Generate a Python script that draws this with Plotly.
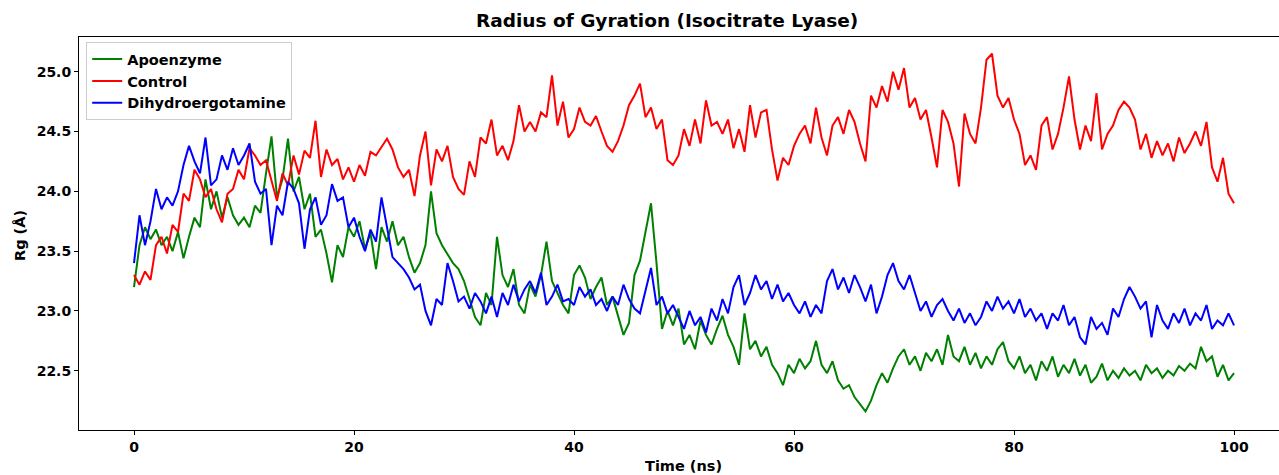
import plotly.graph_objects as go

time_ns = [i * 0.5 for i in range(201)]

control = [
23.30,23.22,23.33,23.26,23.55,23.62,23.48,23.72,23.66,23.98,
23.92,24.18,24.10,23.95,24.02,23.85,23.74,23.98,24.02,24.18,
24.10,24.36,24.30,24.22,24.26,24.10,23.92,24.15,24.05,24.30,
24.14,24.34,24.28,24.59,24.12,24.35,24.22,24.27,24.10,24.20,
24.08,24.22,24.13,24.33,24.30,24.37,24.44,24.35,24.20,24.12,
24.18,23.96,24.30,24.50,24.05,24.35,24.25,24.38,24.12,24.02,
23.97,24.25,24.12,24.45,24.40,24.60,24.30,24.38,24.26,24.42,
24.72,24.50,24.58,24.50,24.66,24.62,24.97,24.55,24.75,24.45,
24.52,24.70,24.58,24.55,24.63,24.50,24.38,24.33,24.42,24.55,
24.72,24.80,24.90,24.62,24.70,24.52,24.60,24.26,24.22,24.30,
24.52,24.38,24.60,24.40,24.76,24.55,24.58,24.48,24.60,24.36,
24.52,24.33,24.72,24.45,24.66,24.68,24.35,24.09,24.28,24.22,
24.38,24.48,24.55,24.40,24.70,24.45,24.30,24.55,24.62,24.48,
24.68,24.58,24.40,24.25,24.80,24.70,24.88,24.75,25.00,24.85,
25.03,24.70,24.78,24.60,24.68,24.45,24.20,24.68,24.58,24.40,
24.04,24.65,24.48,24.40,24.70,25.10,25.15,24.80,24.70,24.78,
24.60,24.48,24.22,24.30,24.18,24.55,24.62,24.35,24.48,24.70,
24.96,24.60,24.35,24.55,24.42,24.82,24.35,24.48,24.55,24.68,
24.75,24.70,24.60,24.35,24.48,24.28,24.42,24.30,24.40,24.25,
24.45,24.32,24.40,24.50,24.38,24.58,24.20,24.08,24.28,23.98,
23.90]

apoenzyme = [
23.20,23.55,23.70,23.60,23.68,23.55,23.62,23.50,23.66,23.44,
23.62,23.78,23.70,24.10,23.85,24.00,23.78,23.95,23.80,23.72,
23.78,23.70,23.88,23.82,24.15,24.46,23.95,24.10,24.44,24.00,
24.12,23.85,23.98,23.62,23.68,23.48,23.24,23.55,23.45,23.70,
23.62,23.75,23.52,23.65,23.35,23.70,23.58,23.75,23.55,23.62,
23.45,23.32,23.40,23.55,24.00,23.65,23.55,23.48,23.40,23.35,
23.25,23.10,22.95,22.88,23.15,23.05,23.62,23.30,23.20,23.35,
23.05,22.98,23.22,23.12,23.30,23.58,23.25,23.15,23.05,22.98,
23.30,23.38,23.28,23.10,23.20,23.28,23.05,23.12,22.95,22.80,
22.90,23.30,23.42,23.65,23.90,23.40,22.85,23.00,22.88,23.02,
22.72,22.80,22.68,22.92,22.80,22.72,22.85,22.96,22.80,22.70,
22.55,22.98,22.68,22.75,22.62,22.70,22.55,22.48,22.38,22.55,
22.48,22.60,22.52,22.58,22.75,22.55,22.48,22.58,22.42,22.35,
22.38,22.28,22.22,22.16,22.25,22.38,22.48,22.40,22.52,22.62,
22.68,22.55,22.62,22.50,22.65,22.58,22.68,22.55,22.80,22.62,
22.58,22.70,22.55,22.65,22.52,22.62,22.55,22.68,22.74,22.58,
22.52,22.62,22.48,22.55,22.42,22.58,22.50,22.62,22.45,22.55,
22.48,22.60,22.46,22.55,22.40,22.45,22.56,22.42,22.50,22.44,
22.52,22.46,22.50,22.42,22.55,22.48,22.52,22.44,22.50,22.46,
22.54,22.50,22.56,22.52,22.70,22.58,22.62,22.45,22.55,22.42,
22.48]

dihydroergotamine = [
23.40,23.80,23.55,23.75,24.02,23.85,23.95,23.88,24.00,24.22,
24.38,24.25,24.15,24.45,24.05,24.10,24.30,24.18,24.36,24.22,
24.30,24.40,24.08,23.98,24.02,23.55,23.88,23.80,24.08,24.02,
23.90,23.52,23.85,23.95,23.72,23.80,24.06,23.92,23.95,23.70,
23.78,23.62,23.50,23.68,23.58,23.95,23.70,23.45,23.40,23.35,
23.28,23.18,23.22,23.00,22.88,23.10,23.05,23.40,23.25,23.08,
23.12,23.02,23.15,23.08,22.98,23.12,22.95,23.15,23.05,23.22,
23.08,23.18,23.25,23.15,23.32,23.05,23.12,23.22,23.08,23.10,
23.05,23.20,23.12,23.18,23.05,23.10,23.00,23.12,23.05,23.22,
23.10,23.02,22.98,23.18,23.36,23.05,23.12,22.98,23.05,22.95,
22.85,23.00,22.88,22.95,22.82,23.02,22.92,23.10,22.98,23.20,
23.30,23.05,23.15,23.30,23.18,23.25,23.10,23.22,23.08,23.15,
23.05,22.98,23.08,22.95,23.05,22.98,23.25,23.35,23.18,23.28,
23.15,23.30,23.20,23.08,23.22,22.98,23.12,23.30,23.40,23.25,
23.18,23.30,23.15,23.00,23.08,22.95,23.05,23.10,23.00,22.92,
23.02,22.90,22.98,22.88,22.95,23.08,23.00,23.12,23.02,23.08,
22.98,23.10,22.95,23.02,22.92,22.98,22.85,22.98,22.92,23.05,
22.88,22.95,22.78,22.72,22.95,22.85,22.90,22.80,23.02,22.95,
23.10,23.20,23.12,23.02,23.08,22.78,23.05,22.92,22.85,22.98,
22.90,23.02,22.88,22.98,22.92,23.05,22.85,22.92,22.88,22.98,
22.88]

series_names = ["Apoenzyme", "Control", "Dihydroergotamine"]
series_values = [apoenzyme, control, dihydroergotamine]
series_colors = ["green", "red", "blue"]

x_ticks = [0, 20, 40, 60, 80, 100]
y_ticks = [22.5, 23.0, 23.5, 24.0, 24.5, 25.0]

FONT = "DejaVu Sans"

fig = go.Figure()
for name, vals, col in zip(series_names, series_values, series_colors):
    fig.add_trace(go.Scatter(x=time_ns, y=vals, mode="lines", name=name,
                             line=dict(color=col, width=2)))

fig.update_layout(
    width=1279, height=475,
    margin=dict(l=79, r=0, t=37, b=45),
    plot_bgcolor="white", paper_bgcolor="white",
    font=dict(family=FONT, size=14, color="black", weight="bold"),
    showlegend=True,
    legend=dict(x=0.006, y=0.987, xanchor="left", yanchor="top",
                bgcolor="white", bordercolor="#cccccc", borderwidth=1,
                font=dict(family=FONT, size=14.5, color="black", weight="bold"),
                itemwidth=30),
    xaxis=dict(range=[-5, 104.09], tickvals=x_ticks, ticktext=[str(v) for v in x_ticks],
               showline=True, linecolor="black", linewidth=1, mirror=True,
               ticks="outside", ticklen=4, tickcolor="black", showgrid=False, zeroline=False,
               tickfont=dict(family=FONT, size=14, weight="bold")),
    yaxis=dict(range=[22.005, 25.29], tickvals=y_ticks, ticktext=[f"{v:.1f}" for v in y_ticks],
               showline=True, linecolor="black", linewidth=1, mirror=False,
               ticks="outside", ticklen=4, tickcolor="black", showgrid=False, zeroline=False,
               tickfont=dict(family=FONT, size=14, weight="bold")),
    annotations=[
        dict(text="Radius of Gyration (Isocitrate Lyase)", xref="paper", yref="paper",
             x=0.49, y=1.043, xanchor="center", yanchor="middle", showarrow=False,
             font=dict(family=FONT, size=18.5, weight="bold")),
        dict(text="Time (ns)", xref="paper", yref="paper",
             x=0.504, y=-0.0916, xanchor="center", yanchor="middle", showarrow=False,
             font=dict(family=FONT, size=14.5, weight="bold")),
        dict(text="Rg (Å)", xref="paper", yref="paper",
             x=-0.0492, y=0.496, xanchor="center", yanchor="middle", showarrow=False,
             textangle=-90, font=dict(family=FONT, size=14.5, weight="bold")),
    ],
)

fig.write_html("out.html")
